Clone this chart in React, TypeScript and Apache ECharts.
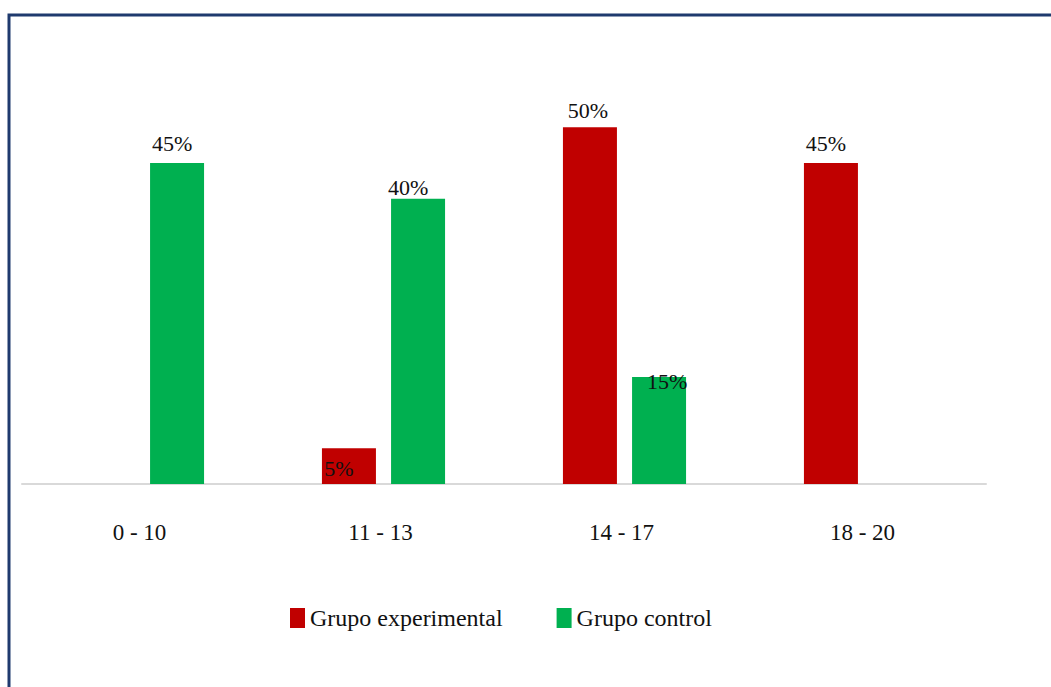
import React, { useEffect, useRef } from "react";
import * as echarts from "echarts";

// Score ranges and the share of students in each group (percent)
const categories: string[] = ["0 - 10", "11 - 13", "14 - 17", "18 - 20"];
const experimental: (number | null)[] = [null, 5, 50, 45];
const control: (number | null)[] = [45, 40, 15, null];
const seriesNames: string[] = ["Grupo experimental", "Grupo control"];

// Small nudges for the value labels, in pixels [dx, dy]
const experimentalLabelNudge: [number, number][] = [[0, 0], [-10, 31], [-2, -6], [-5, -9]];
const controlLabelNudge: [number, number][] = [[-5, -9], [-10, 0], [8, 15], [0, 0]];

const FONT = '"Liberation Serif", "Times New Roman", serif';
const RED = "#C00000";
const GREEN = "#00B050";

function buildData(values: (number | null)[], nudges: [number, number][]) {
  return values.map((v, i) =>
    v === null
      ? null
      : {
          value: v,
          label: { offset: nudges[i] },
        }
  );
}

export default function App() {
  const ref = useRef<HTMLDivElement>(null);

  useEffect(() => {
    if (!ref.current) return;
    const chart = echarts.init(ref.current, null, { renderer: "svg" });
    const labelCommon = {
      show: true,
      position: "top" as const,
      distance: 0,
      formatter: "{c}%",
      fontFamily: FONT,
      fontSize: 22,
      color: "#111",
    };
    chart.setOption({
      animation: false,
      backgroundColor: "#ffffff",
      graphic: [
        {
          type: "rect",
          shape: { x: 9, y: 15, width: 1200, height: 800 },
          style: { fill: "none", stroke: "#1F3A6E", lineWidth: 3 },
          silent: true,
          z: 100,
        },
      ],
      grid: { left: 22, right: 65, top: 56, bottom: 203, containLabel: false },
      legend: {
        left: 290,
        top: 606,
        padding: 0,
        itemWidth: 15,
        itemHeight: 20,
        itemGap: 54,
        icon: "rect",
        textStyle: { fontFamily: FONT, fontSize: 24, color: "#111" },
        data: seriesNames,
      },
      xAxis: {
        type: "category",
        data: categories,
        axisLine: { show: true, lineStyle: { color: "#D9D9D9", width: 2 } },
        axisTick: { show: false },
        axisLabel: {
          fontFamily: FONT,
          fontSize: 23,
          color: "#111",
          margin: 37,
          padding: [0, 6, 0, 0],
        },
      },
      yAxis: {
        type: "value",
        min: 0,
        max: 60,
        show: false,
        splitLine: { show: false },
      },
      series: [
        {
          name: seriesNames[0],
          type: "bar",
          barWidth: 54,
          barGap: "28%",
          itemStyle: { color: RED },
          label: labelCommon,
          data: buildData(experimental, experimentalLabelNudge),
        },
        {
          name: seriesNames[1],
          type: "bar",
          barWidth: 54,
          barGap: "28%",
          itemStyle: { color: GREEN },
          label: labelCommon,
          data: buildData(control, controlLabelNudge),
        },
      ],
    });
    return () => chart.dispose();
  }, []);

  return (
    <div
      ref={ref}
      style={{ position: "fixed", left: 0, top: 0, width: 1051, height: 687 }}
    />
  );
}
